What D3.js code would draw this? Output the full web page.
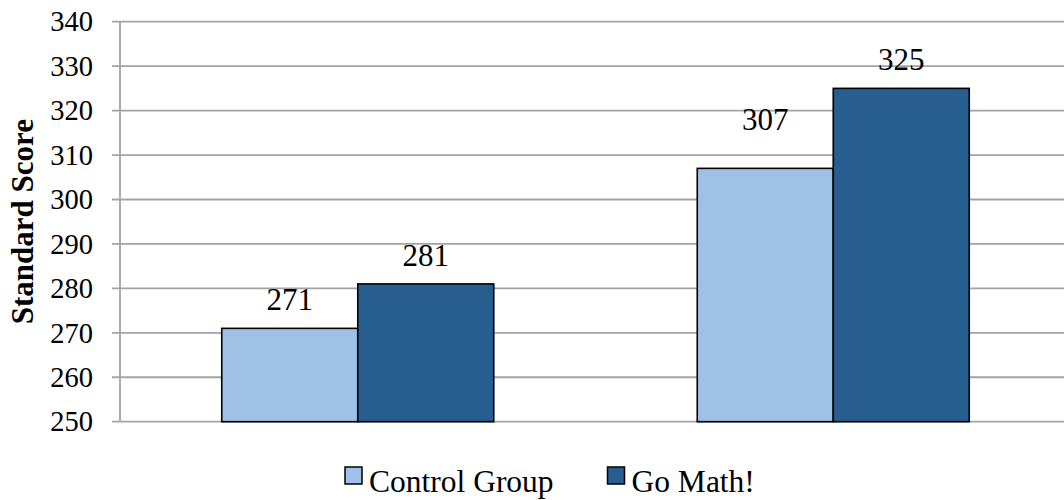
<!DOCTYPE html>
<html>
<head>
<meta charset="utf-8">
<script src="https://cdn.jsdelivr.net/npm/d3@7"></script>
<style>
  html, body { margin: 0; padding: 0; background: #fff; }
  svg { display: block; }
  text { font-family: "Liberation Serif", "Times New Roman", serif; fill: #000; }
</style>
</head>
<body>
<svg id="chart" width="1064" height="500"></svg>
<script>
// ---- data ----
const categories = ["Group A", "Group B"];
const seriesNames = ["Control Group", "Go Math!"];
const controlValues = [271, 307];
const goMathValues = [281, 325];
const yTicks = [250, 260, 270, 280, 290, 300, 310, 320, 330, 340];
const yTitle = "Standard Score";
const seriesColors = ["#9FC1E5", "#285E8F"];

// manual label nudges (as in the original chart, one label was lifted)
const labelNudge = { "Group B|Control Group": -20 };

const svg = d3.select("#chart");
const margin = { left: 120, top: 21.7, bottom: 421.7, right: 1071 };

const x0 = d3.scaleBand().domain(categories)
  .range([margin.left, margin.right])
  .paddingInner(0.428).paddingOuter(0.214);
const x1 = d3.scaleBand().domain(seriesNames).range([0, x0.bandwidth()]);
const y = d3.scaleLinear().domain([250, 340]).range([margin.bottom, margin.top]);

const gridColor = "#A3A3A3";

// gridlines
svg.append("g").selectAll("line").data(yTicks).join("line")
  .attr("x1", margin.left - 8).attr("x2", 1064)
  .attr("y1", d => y(d)).attr("y2", d => y(d))
  .attr("stroke", gridColor).attr("stroke-width", 1.8);

// y axis line
svg.append("line")
  .attr("x1", margin.left).attr("x2", margin.left)
  .attr("y1", y(340)).attr("y2", y(250))
  .attr("stroke", gridColor).attr("stroke-width", 1.8);

// tick labels
svg.append("g").selectAll("text").data(yTicks).join("text")
  .attr("x", 93).attr("y", d => y(d))
  .attr("dy", "0.34em")
  .attr("text-anchor", "end")
  .style("font-size", "28.5px")
  .text(d => d);

// y title
svg.append("text")
  .attr("transform", `translate(33,${(y(250) + y(340)) / 2}) rotate(-90)`)
  .attr("text-anchor", "middle")
  .style("font-size", "31px").style("font-weight", "bold")
  .text(yTitle);

// bars
const rows = categories.map((c, i) => ({
  cat: c,
  vals: [
    { cat: c, name: seriesNames[0], v: controlValues[i], color: seriesColors[0] },
    { cat: c, name: seriesNames[1], v: goMathValues[i], color: seriesColors[1] }
  ]
}));

const groups = svg.append("g").selectAll("g").data(rows).join("g")
  .attr("transform", d => `translate(${x0(d.cat)},0)`);

groups.selectAll("rect").data(d => d.vals).join("rect")
  .attr("x", d => x1(d.name))
  .attr("width", x1.bandwidth())
  .attr("y", d => y(d.v))
  .attr("height", d => y(250) - y(d.v))
  .attr("fill", d => d.color)
  .attr("stroke", "#000").attr("stroke-width", 1.6);

groups.selectAll("text").data(d => d.vals).join("text")
  .attr("x", d => x1(d.name) + x1.bandwidth() / 2)
  .attr("y", d => y(d.v) - 18 + (labelNudge[d.cat + "|" + d.name] || 0))
  .attr("text-anchor", "middle")
  .style("font-size", "31px")
  .text(d => d.v);

// legend
const legendItems = [
  { name: seriesNames[0], color: seriesColors[0], x: 345 },
  { name: seriesNames[1], color: seriesColors[1], x: 607.5 }
];
const lg = svg.append("g").selectAll("g").data(legendItems).join("g")
  .attr("transform", d => `translate(${d.x},467)`);
lg.append("rect").attr("width", 17).attr("height", 17)
  .attr("fill", d => d.color).attr("stroke", "#000").attr("stroke-width", 1.5);
lg.append("text").attr("x", 24).attr("y", 25)
  .style("font-size", "31.5px")
  .text(d => d.name);
</script>
</body>
</html>
